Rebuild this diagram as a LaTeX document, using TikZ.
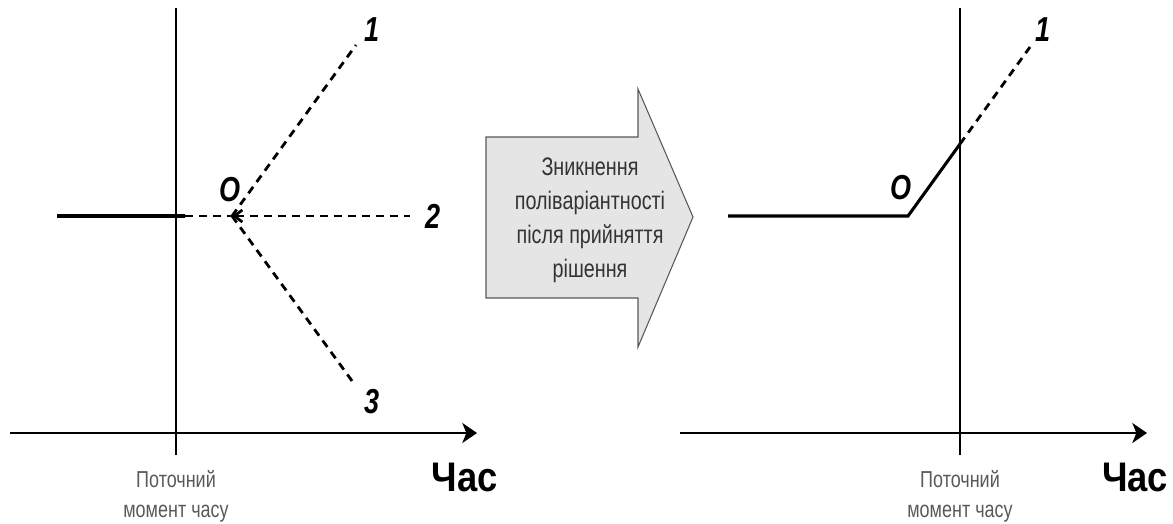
\documentclass[tikz,border=0pt]{standalone}
\usepackage{fontspec}
\setmainfont{Liberation Sans}[FakeStretch=0.78]
\newfontfamily\timefont{Liberation Sans}[FakeStretch=0.88]
\usetikzlibrary{arrows.meta}

\begin{document}
\begin{tikzpicture}[x=0.75pt, y=-0.75pt,
		axis/.style={line width=1.5pt, -{Stealth[length=11pt, width=15pt, inset=3pt]}},
		nowline/.style={line width=1.1pt},
		course/.style={line width=2.3pt},
		branch/.style={line width=2.1pt, dash pattern=on 6pt off 4.5pt},
		tag/.style={font=\fontsize{26}{26}\selectfont\bfseries\itshape},
		nowlabel/.style={align=center, text=black!65, font=\fontsize{17.3}{22.5}\selectfont},
		timelabel/.style={font=\timefont\bfseries\fontsize{31}{31}\selectfont},
		shiftarrow/.style={draw=black!65, fill=black!10, line width=0.8pt},
		note/.style={align=center, text=black!80, font=\fontsize{19}{25.5}\selectfont}]
	\useasboundingbox (0,0) rectangle (1173,524);

	\foreach \nx/\ax [count=\i] in {176/10, 960/680} {
		\coordinate (top\i) at (\nx,8);
		\coordinate (foot\i) at (\nx,455);
		\coordinate (start\i) at (\ax,433);
		\coordinate (end\i) at (\ax+467,433);
		\draw[nowline] (top\i) -- (foot\i);
		\draw[axis] (start\i) -- (end\i);
		\node[nowlabel] (now\i) at (\nx,496) {Поточний\\момент часу};
		\node[timelabel] (time\i) at (\ax+455,477) {Час};
	}

	% before the decision: three variants from O
	\coordinate (past) at (57,216);
	\coordinate (cut) at (185,216);
	\coordinate (o) at (232,216);
	\coordinate (e1) at (356,45);
	\coordinate (e2) at (410,216);
	\coordinate (e3) at (355,385);
	\draw[course] (past) -- (cut);
	\draw[branch] (cut) -- (o);
	\draw[branch, {Straight Barb[length=6pt, width=9pt]}-] (o) -- (e2);
	\draw[branch] (o) -- (e1);
	\draw[branch] (o) -- (e3);
	\node[tag] (o tag) at (230,190) {O};
	\node[tag] (v1) at (372,30) {1};
	\node[tag] (v2) at (433,216) {2};
	\node[tag] (v3) at (372,402) {3};

	% the shift arrow
	\draw[shiftarrow] (486,137) -- (638,137) -- (638,89) -- (693,217)
		-- (638,347) -- (638,298) -- (486,298) -- cycle;
	\node[note] (reason) at (590,220) {Зникнення\\полівaріантності\\після прийняття\\рішення};

	% after the decision: one variant left
	\coordinate (past r) at (728,216);
	\coordinate (o r) at (908,216);
	\coordinate (cross) at (960,144);
	\coordinate (e1 r) at (1030,47);
	\draw[course] (past r) -- (o r) -- (cross);
	\draw[branch] (cross) -- (e1 r);
	\node[tag] (o tag r) at (901,188) {O};
	\node[tag] (v1 r) at (1043,30) {1};
\end{tikzpicture}
\end{document}
